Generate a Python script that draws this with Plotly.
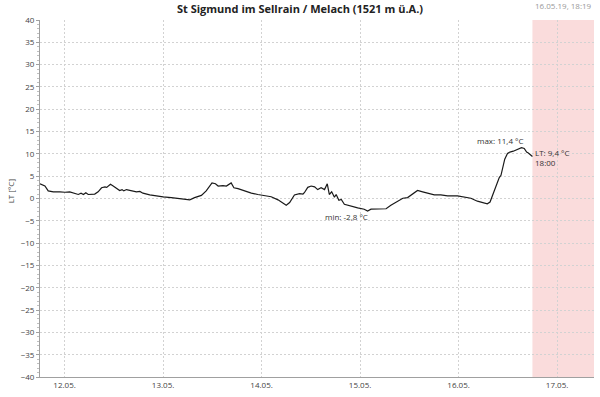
import plotly.graph_objects as go

times = [
    "2019-05-11 18:00", "2019-05-11 19:12", "2019-05-11 20:00", "2019-05-11 21:15", "2019-05-11 22:50",
    "2019-05-12 00:05", "2019-05-12 01:15", "2019-05-12 02:30", "2019-05-12 03:20", "2019-05-12 04:00",
    "2019-05-12 04:35", "2019-05-12 05:10", "2019-05-12 05:45", "2019-05-12 07:20", "2019-05-12 08:10",
    "2019-05-12 09:00", "2019-05-12 09:50", "2019-05-12 10:15", "2019-05-12 11:10", "2019-05-12 11:50",
    "2019-05-12 12:40", "2019-05-12 13:25", "2019-05-12 14:00", "2019-05-12 14:25", "2019-05-12 15:05",
    "2019-05-12 16:20", "2019-05-12 17:30", "2019-05-12 18:20", "2019-05-12 19:05", "2019-05-12 20:45",
    "2019-05-12 22:25", "2019-05-13 00:00", "2019-05-13 02:00", "2019-05-13 03:15", "2019-05-13 04:30",
    "2019-05-13 06:30", "2019-05-13 07:40", "2019-05-13 09:20", "2019-05-13 10:30", "2019-05-13 11:20",
    "2019-05-13 11:55", "2019-05-13 12:45", "2019-05-13 13:25", "2019-05-13 14:35", "2019-05-13 15:25",
    "2019-05-13 16:35", "2019-05-13 17:15", "2019-05-13 18:15", "2019-05-13 19:50", "2019-05-13 21:30",
    "2019-05-13 23:05", "2019-05-14 00:45", "2019-05-14 02:20", "2019-05-14 04:00", "2019-05-14 05:10",
    "2019-05-14 06:00", "2019-05-14 06:50", "2019-05-14 08:00", "2019-05-14 09:15", "2019-05-14 10:05",
    "2019-05-14 10:25", "2019-05-14 11:15", "2019-05-14 12:05", "2019-05-14 12:55", "2019-05-14 13:40",
    "2019-05-14 14:30", "2019-05-14 15:20", "2019-05-14 16:00", "2019-05-14 16:30", "2019-05-14 17:05",
    "2019-05-14 17:45", "2019-05-14 18:10", "2019-05-14 18:50", "2019-05-14 19:25", "2019-05-14 20:10",
    "2019-05-14 21:50", "2019-05-14 23:25", "2019-05-15 01:00", "2019-05-15 01:50", "2019-05-15 02:40",
    "2019-05-15 04:20", "2019-05-15 06:20", "2019-05-15 07:30", "2019-05-15 08:45", "2019-05-15 09:30",
    "2019-05-15 10:25", "2019-05-15 11:35", "2019-05-15 12:25", "2019-05-15 13:10", "2019-05-15 14:00",
    "2019-05-15 15:15", "2019-05-15 16:30", "2019-05-15 18:05", "2019-05-15 19:40", "2019-05-15 21:20",
    "2019-05-15 23:45", "2019-05-16 01:25", "2019-05-16 03:00", "2019-05-16 04:35", "2019-05-16 06:15",
    "2019-05-16 07:00", "2019-05-16 07:40", "2019-05-16 08:15", "2019-05-16 09:05", "2019-05-16 09:55",
    "2019-05-16 10:20", "2019-05-16 10:40", "2019-05-16 11:15", "2019-05-16 11:55", "2019-05-16 12:30",
    "2019-05-16 13:20", "2019-05-16 14:10", "2019-05-16 14:45", "2019-05-16 15:20", "2019-05-16 16:00",
    "2019-05-16 16:35", "2019-05-16 17:00", "2019-05-16 17:35", "2019-05-16 18:00",
]
temps = [
    3.3, 2.8, 1.7, 1.5, 1.5,
    1.4, 1.5, 1.2, 0.9, 1.2,
    0.9, 1.3, 0.9, 1.0, 1.5,
    2.4, 2.6, 2.5, 3.2, 2.8,
    2.2, 1.8, 2.0, 1.7, 2.0,
    1.8, 1.5, 1.6, 1.2, 0.8,
    0.5, 0.35, 0.2, 0.05, -0.2,
    -0.3, 0.2, 0.7, 1.7, 2.8,
    3.5, 3.3, 2.8, 2.9, 2.8,
    3.5, 2.4, 2.2, 1.7, 1.2,
    0.9, 0.7, 0.4, -0.3, -1.1,
    -1.5, -0.9, 0.8, 1.1, 1.0,
    1.3, 2.5, 2.8, 2.6, 2.0,
    2.4, 2.0, 3.3, 0.9, 1.5,
    0.3, 0.9, -0.4, -0.2, -1.3,
    -1.8, -2.1, -2.4, -2.8, -2.4,
    -2.4, -2.3, -1.5, -0.8, -0.4,
    0.05, 0.2, 0.8, 1.3, 1.8,
    1.5, 1.2, 0.8, 0.8, 0.6,
    0.6, 0.35, 0.05, -0.6, -0.9,
    -1.2, -0.8, 0.6, 2.8, 4.7,
    5.2, 6.5, 8.8, 10.1, 10.4,
    10.6, 11.0, 11.2, 11.4, 11.2,
    10.4, 10.2, 9.7, 9.4,
]

title_text = "St Sigmund im Sellrain / Melach (1521 m ü.A.)"
stamp_text = "16.05.19, 18:19"
y_title = "LT [°C]"
x_range = ["2019-05-11 18:00", "2019-05-17 09:00"]
forecast_span = ["2019-05-16 18:00", "2019-05-17 09:00"]
max_label = "max: 11,4 °C"
min_label = "min: -2,8 °C"
last_label = "LT: 9,4 °C<br>18:00"
max_time, max_val = "2019-05-16 15:20", 11.4
min_time, min_val = "2019-05-15 01:50", -2.8
last_time, last_val = "2019-05-16 18:00", 9.4

FONT = "Open Sans"
fig = go.Figure()
fig.add_trace(go.Scatter(x=times, y=temps, mode="lines",
                         line=dict(color="#1a1a1a", width=1.2),
                         hoverinfo="skip", showlegend=False))

fig.add_shape(type="rect", xref="x", yref="paper",
              x0=forecast_span[0], x1=forecast_span[1], y0=0, y1=1,
              fillcolor="#fadcdc", line=dict(width=0), layer="below")

fig.add_annotation(x=max_time, y=max_val, text=max_label, showarrow=False,
                   xanchor="right", yanchor="bottom", xshift=4, yshift=0,
                   font=dict(family=FONT, size=8, color="#333"))
fig.add_annotation(x=min_time, y=min_val, text=min_label, showarrow=False,
                   xanchor="right", yanchor="top", xshift=2, yshift=2,
                   font=dict(family=FONT, size=8, color="#333"))
fig.add_annotation(x=last_time, y=last_val, text=last_label, showarrow=False,
                   xanchor="left", yanchor="top", xshift=1, yshift=12, align="left",
                   font=dict(family=FONT, size=8, color="#333"))
fig.add_annotation(xref="paper", yref="paper", x=1.0, y=1.0 + 14 / 357,
                   text=stamp_text, showarrow=False, xanchor="right", yanchor="middle",
                   font=dict(family=FONT, size=8, color="#999"))
fig.add_annotation(xref="paper", yref="paper", x=-30 / 554, y=0.52,
                   text=y_title, showarrow=False, textangle=-90,
                   xanchor="center", yanchor="middle",
                   font=dict(family=FONT, size=8, color="#444"))

fig.update_layout(
    width=600, height=397,
    margin=dict(l=40, r=6, t=20, b=20, autoexpand=False),
    paper_bgcolor="white", plot_bgcolor="white",
    title=dict(text="<b>" + title_text + "</b>", x=0.5, xanchor="center",
               y=1 - 9 / 397, yref="container", yanchor="middle", pad=dict(t=0, b=0),
               font=dict(family=FONT, size=11, color="#222")),
    font=dict(family=FONT, size=8, color="#444"),
)
fig.update_xaxes(
    type="date", range=x_range, dtick=86400000, tick0="2019-05-12",
    tickformat="%d.%m.", showgrid=True, gridcolor="#d2d2d2", griddash="2px,2px",
    gridwidth=1, showline=True, linecolor="#a0a0a0", linewidth=1,
    ticks="", tickfont=dict(family=FONT, size=8, color="#444"), zeroline=False,
    automargin=False,
)
fig.update_yaxes(
    range=[-40, 40], dtick=5, showgrid=True, gridcolor="#d2d2d2", griddash="2px,2px",
    gridwidth=1, showline=True, linecolor="#a0a0a0", linewidth=1,
    ticks="outside", ticklen=3, tickcolor="#a0a0a0",
    minor=dict(dtick=1, ticks="outside", ticklen=2, tickcolor="#c0c0c0", showgrid=False),
    zeroline=False, tickfont=dict(family=FONT, size=8, color="#444"),
    automargin=False,
)

fig.write_html("out.html", config={"displayModeBar": False},
               post_script="document.body.style.margin='0';document.body.style.overflow='hidden';")
